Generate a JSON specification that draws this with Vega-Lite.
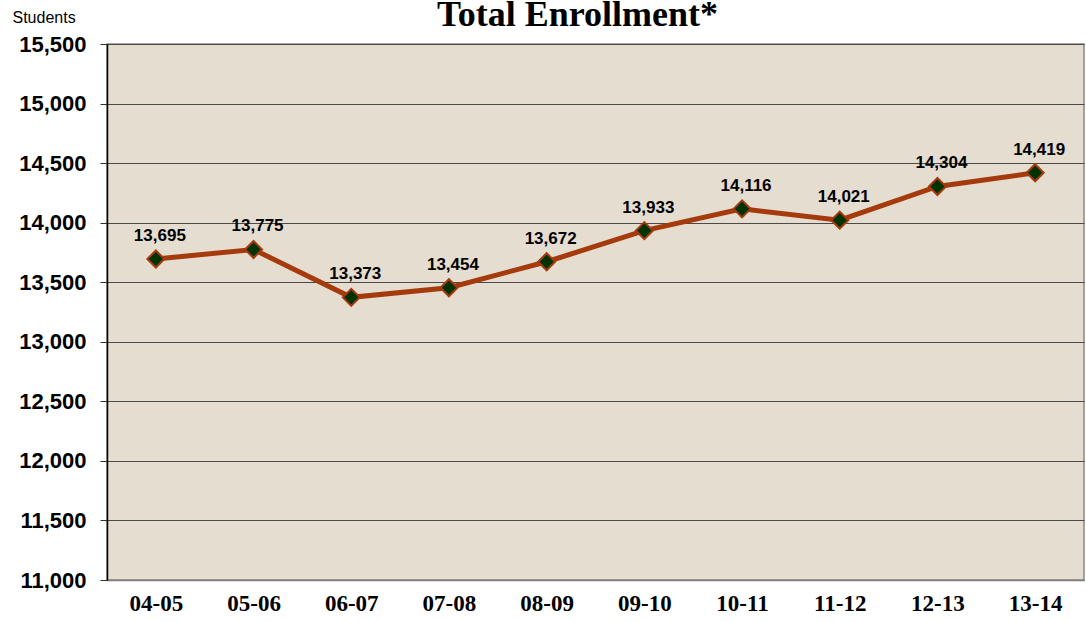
{
  "$schema": "https://vega.github.io/schema/vega-lite/v6.json",
  "width": 977,
  "height": 536,
  "autosize": {"type": "none"},
  "padding": {"left": 107, "top": 44, "right": 2, "bottom": 42},
  "background": "white",
  "title": {
    "text": "Total Enrollment*",
    "font": "Liberation Serif",
    "fontSize": 36,
    "fontWeight": "bold",
    "color": "black",
    "anchor": "middle",
    "frame": "group",
    "baseline": "alphabetic",
    "offset": -53,
    "dx": -18
  },
  "config": {
    "view": {"fill": "#e5ddd0", "stroke": "#888888", "strokeWidth": 1.5}
  },
  "data": {
    "values": [
      {"year": "04-05", "students": 13695},
      {"year": "05-06", "students": 13775},
      {"year": "06-07", "students": 13373},
      {"year": "07-08", "students": 13454},
      {"year": "08-09", "students": 13672},
      {"year": "09-10", "students": 13933},
      {"year": "10-11", "students": 14116},
      {"year": "11-12", "students": 14021},
      {"year": "12-13", "students": 14304},
      {"year": "13-14", "students": 14419}
    ]
  },
  "encoding": {
    "x": {
      "field": "year",
      "type": "ordinal",
      "sort": null,
      "scale": {"type": "point", "padding": 0.5},
      "axis": {
        "title": null,
        "labelAngle": 0,
        "labelFont": "Liberation Serif",
        "labelFontSize": 23,
        "labelFontWeight": "bold",
        "labelColor": "black",
        "labelPadding": 12,
        "ticks": false,
        "grid": false,
        "domainColor": "#808080",
        "domainWidth": 1.5
      }
    },
    "y": {
      "field": "students",
      "type": "quantitative",
      "scale": {"domain": [11000, 15500], "nice": false, "zero": false},
      "axis": {
        "values": [11000, 11500, 12000, 12500, 13000, 13500, 14000, 14500, 15000, 15500],
        "format": ",d",
        "title": "Students",
        "titleAngle": 0,
        "titleX": -95,
        "titleY": -22,
        "titleAlign": "left",
        "titleBaseline": "alphabetic",
        "titleFont": "Liberation Sans",
        "titleFontSize": 16,
        "titleFontWeight": "normal",
        "titleColor": "black",
        "labelFont": "Liberation Sans",
        "labelFontSize": 22,
        "labelFontWeight": "bold",
        "labelColor": "black",
        "labelPadding": 14,
        "tickSize": 7,
        "tickColor": "#333333",
        "domainColor": "black",
        "domainWidth": 1.5,
        "grid": true,
        "gridColor": "#4a4a4a",
        "gridWidth": 1.2,
        "gridOpacity": 1
      }
    }
  },
  "layer": [
    {
      "mark": {"type": "line", "color": "#a53a0c", "strokeWidth": 5}
    },
    {
      "mark": {"type": "point", "shape": "diamond", "size": 290, "filled": true, "fill": "#003300", "stroke": "#a53a0c", "strokeWidth": 2, "opacity": 1}
    },
    {
      "mark": {"type": "text", "font": "Liberation Sans", "fontSize": 17, "fontWeight": "bold", "color": "black", "baseline": "middle", "dy": -23, "dx": 4},
      "encoding": {"text": {"field": "students", "type": "quantitative", "format": ","}}
    }
  ]
}
